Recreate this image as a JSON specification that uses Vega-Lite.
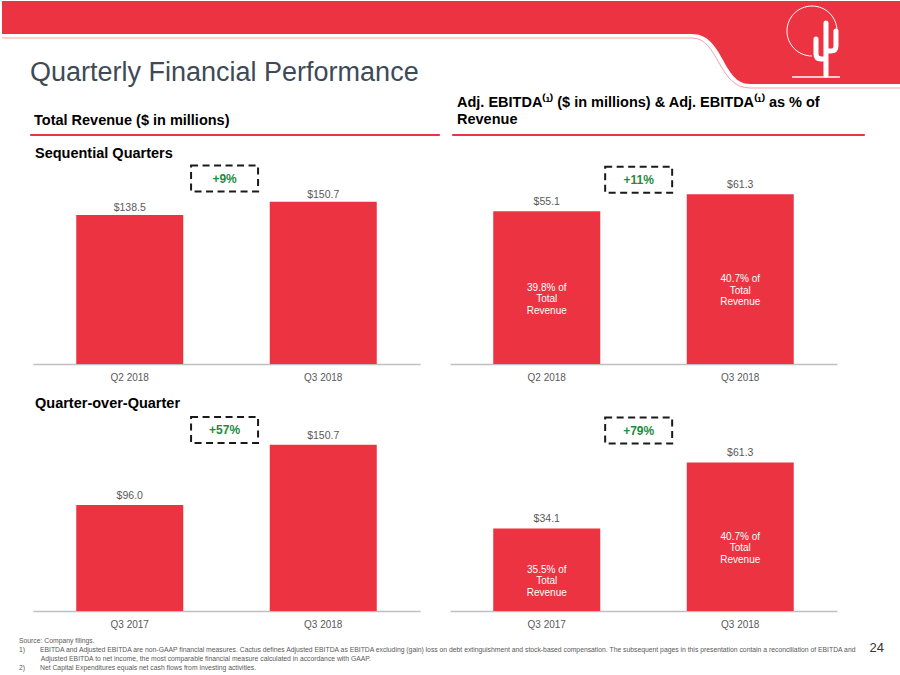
{
  "$schema": "https://vega.github.io/schema/vega-lite/v6.json",
  "padding": 0,
  "background": "#ffffff",
  "spacing": 0,
  "bounds": "flush",
  "config": {
    "font": "Liberation Sans",
    "view": {"stroke": null},
    "axis": {"domainColor": "#bfbfbf", "domainWidth": 1.5, "ticks": false, "tickSize": 0, "labelPadding": 8, "labelFontSize": 10, "labelColor": "#595959", "labelAngle": 0, "grid": false},
    "title": {"fontWeight": "bold", "color": "#000000", "anchor": "start", "frame": "group"}
  },
  "datasets": {
    "revSeq": [{"q": "Q2 2018", "v": 138.5}, {"q": "Q3 2018", "v": 150.7}],
    "revYoY": [{"q": "Q3 2017", "v": 96.0}, {"q": "Q3 2018", "v": 150.7}],
    "ebSeq": [{"q": "Q2 2018", "v": 55.1, "pct": "39.8% of\nTotal\nRevenue"}, {"q": "Q3 2018", "v": 61.3, "pct": "40.7% of\nTotal\nRevenue"}],
    "ebYoY": [{"q": "Q3 2017", "v": 34.1, "pct": "35.5% of\nTotal\nRevenue"}, {"q": "Q3 2018", "v": 61.3, "pct": "40.7% of\nTotal\nRevenue"}],
    "gRevSeq": [{"from": "Q2 2018", "change": "+9%"}],
    "gRevYoY": [{"from": "Q3 2017", "change": "+57%"}],
    "gEbSeq": [{"from": "Q2 2018", "change": "+11%"}],
    "gEbYoY": [{"from": "Q3 2017", "change": "+79%"}]
  },
  "vconcat": [
    {
      "width": 900, "height": 86,
      "data": {"values": [{"k": 1}]},
      "layer": [
        {"mark": {"type": "point", "shape": "M-1,-0.0956H1V0.0889H0.6622C0.6,0.0889,0.6044,-0.0222,0.5333,-0.0222H-1Z", "size": 810000, "filled": true, "fill": "#ec3341", "strokeWidth": 0, "opacity": 1}, "encoding": {}},
        {"mark": {"type": "point", "shape": "M-1,-0.0133H0.5333C0.5933,-0.0133,0.5911,0.0978,0.6622,0.0978H1", "size": 810000, "filled": false, "stroke": "#f3a3a8", "strokeWidth": 1, "opacity": 1}, "encoding": {}},
        {"mark": {"type": "point", "shape": "M0.8556,-0.0289C0.8556,-0.0596,0.8307,-0.0844,0.8,-0.0844C0.7693,-0.0844,0.7444,-0.0596,0.7444,-0.0289C0.7444,0.0018,0.7693,0.0267,0.8,0.0267", "size": 810000, "filled": false, "stroke": "#ffffff", "strokeWidth": 1, "opacity": 1}, "encoding": {}},
        {"mark": {"type": "point", "shape": "M0.8311,-0.0467V0.0689M0.8311,0.0156H0.8422Q0.8533,0.0156,0.8533,0.0044V-0.0289M0.8311,0.0333H0.82Q0.8089,0.0333,0.8089,0.0222V-0.0111", "size": 810000, "filled": false, "stroke": "#ffffff", "strokeWidth": 5, "strokeCap": "round", "strokeJoin": "round", "opacity": 1}, "encoding": {}},
        {"mark": {"type": "point", "shape": "M0.7556,0.0733H0.8622", "size": 810000, "filled": false, "stroke": "#ffffff", "strokeWidth": 1.5, "opacity": 1}, "encoding": {}}
      ]
    },
    {
      "width": 900, "height": 47,
      "data": {"values": []},
      "mark": "text",
      "title": {"text": "Quarterly Financial Performance", "offset": 0, "dx": 28, "fontSize": 27, "fontWeight": "normal", "color": "#3e4a56"}
    },
    {
      "hconcat": [
        {"width": 15, "height": 1, "data": {"values": []}, "mark": "text"},
        {
          "width": 409, "height": 1,
          "view": {"stroke": "#ec3341", "strokeWidth": 1, "fill": "#ec3341"},
          "data": {"values": []}, "mark": "text",
          "title": {"text": "Total Revenue ($ in millions)", "offset": 6, "dx": 4, "fontSize": 14.5}
        },
        {
          "width": 412, "height": 1,
          "view": {"stroke": "#ec3341", "strokeWidth": 1, "fill": "#ec3341"},
          "data": {"values": []}, "mark": "text",
          "title": {"text": ["Adj. EBITDA⁽¹⁾ ($ in millions) & Adj. EBITDA⁽¹⁾ as % of", "Revenue"], "offset": 6, "dx": 5, "fontSize": 14.5, "lineHeight": 17.6}
        }
      ],
      "spacing": 13,
      "bounds": "flush"
    },
    {"width": 900, "height": 30, "data": {"values": []}, "mark": "text"},
    {
      "hconcat": [
        {"width": 1, "height": 200, "data": {"values": []}, "mark": "text"},
        {
          "width": 387, "height": 200,
          "data": {"name": "revSeq"},
          "title": {"text": "Sequential Quarters", "offset": 0, "dx": 2, "fontSize": 14.5},
          "resolve": {"scale": {"y": "independent"}},
          "layer": [
            {"mark": {"type": "bar", "color": "#ec3341", "width": {"band": 0.553}},
             "encoding": {
               "x": {"field": "q", "type": "nominal", "title": null, "scale": {"paddingInner": 0, "paddingOuter": 0}},
               "y": {"field": "v", "type": "quantitative", "scale": {"domain": [0, 185.8], "nice": false}, "axis": null}}},
            {"mark": {"type": "text", "baseline": "alphabetic", "dy": -4, "fontSize": 10.5, "color": "#595959"},
             "encoding": {
               "x": {"field": "q", "type": "nominal", "title": null},
               "y": {"field": "v", "type": "quantitative", "scale": {"domain": [0, 185.8], "nice": false}, "axis": null},
               "text": {"field": "v", "type": "quantitative", "format": "$.1f"}}},
            {"data": {"name": "gRevSeq"},
             "mark": {"type": "point", "shape": "M-1,-0.388H1V0.388H-1Z", "size": 4489, "filled": false, "stroke": "#1a1a1a", "strokeWidth": 2, "strokeDash": [7, 4.5], "opacity": 1},
             "encoding": {
               "x": {"field": "from", "type": "nominal", "bandPosition": 0.99, "title": null},
               "y": {"datum": 172.3, "type": "quantitative", "scale": {"domain": [0, 185.8], "nice": false}, "axis": null}}},
            {"data": {"name": "gRevSeq"},
             "mark": {"type": "text", "fontSize": 12, "fontWeight": "bold", "color": "#1e8b3e", "baseline": "middle"},
             "encoding": {
               "x": {"field": "from", "type": "nominal", "bandPosition": 0.99, "title": null},
               "y": {"datum": 172.3, "type": "quantitative", "scale": {"domain": [0, 185.8], "nice": false}, "axis": null},
               "text": {"field": "change", "type": "nominal"}}}
          ]
        },
        {
          "width": 387, "height": 200,
          "data": {"name": "ebSeq"},
          "resolve": {"scale": {"y": "independent"}},
          "layer": [
            {"mark": {"type": "bar", "color": "#ec3341", "width": {"band": 0.553}},
             "encoding": {
               "x": {"field": "q", "type": "nominal", "title": null, "scale": {"paddingInner": 0, "paddingOuter": 0}},
               "y": {"field": "v", "type": "quantitative", "scale": {"domain": [0, 72.2], "nice": false}, "axis": null}}},
            {"mark": {"type": "text", "baseline": "alphabetic", "dy": -6.5, "fontSize": 10.5, "color": "#595959"},
             "encoding": {
               "x": {"field": "q", "type": "nominal", "title": null},
               "y": {"field": "v", "type": "quantitative", "scale": {"domain": [0, 72.2], "nice": false}, "axis": null},
               "text": {"field": "v", "type": "quantitative", "format": "$.1f"}}},
            {"mark": {"type": "text", "baseline": "middle", "fontSize": 10, "lineHeight": 11.5, "lineBreak": "\n", "color": "#ffffff"},
             "encoding": {
               "x": {"field": "q", "type": "nominal", "title": null},
               "y": {"field": "v", "type": "quantitative", "scale": {"domain": [0, 144.4], "nice": false}, "axis": null},
               "text": {"field": "pct", "type": "nominal"}}},
            {"data": {"name": "gEbSeq"},
             "mark": {"type": "point", "shape": "M-1,-0.388H1V0.388H-1Z", "size": 4489, "filled": false, "stroke": "#1a1a1a", "strokeWidth": 2, "strokeDash": [7, 4.5], "opacity": 1},
             "encoding": {
               "x": {"field": "from", "type": "nominal", "bandPosition": 0.975, "title": null},
               "y": {"datum": 66.5, "type": "quantitative", "scale": {"domain": [0, 72.2], "nice": false}, "axis": null}}},
            {"data": {"name": "gEbSeq"},
             "mark": {"type": "text", "fontSize": 12, "fontWeight": "bold", "color": "#1e8b3e", "baseline": "middle"},
             "encoding": {
               "x": {"field": "from", "type": "nominal", "bandPosition": 0.975, "title": null},
               "y": {"datum": 66.5, "type": "quantitative", "scale": {"domain": [0, 72.2], "nice": false}, "axis": null},
               "text": {"field": "change", "type": "nominal"}}}
          ]
        }
      ],
      "spacing": 30,
      "bounds": "flush"
    },
    {"width": 900, "height": 247, "data": {"values": []}, "mark": "text"},
    {
      "hconcat": [
        {"width": 1, "height": 200, "data": {"values": []}, "mark": "text"},
        {
          "width": 387, "height": 200,
          "data": {"name": "revYoY"},
          "title": {"text": "Quarter-over-Quarter", "offset": 0, "dx": 2, "fontSize": 14.5},
          "resolve": {"scale": {"y": "independent"}},
          "layer": [
            {"mark": {"type": "bar", "color": "#ec3341", "width": {"band": 0.553}},
             "encoding": {
               "x": {"field": "q", "type": "nominal", "title": null, "scale": {"paddingInner": 0, "paddingOuter": 0}},
               "y": {"field": "v", "type": "quantitative", "scale": {"domain": [0, 181.2], "nice": false}, "axis": null}}},
            {"mark": {"type": "text", "baseline": "alphabetic", "dy": -6, "fontSize": 10.5, "color": "#595959"},
             "encoding": {
               "x": {"field": "q", "type": "nominal", "title": null},
               "y": {"field": "v", "type": "quantitative", "scale": {"domain": [0, 181.2], "nice": false}, "axis": null},
               "text": {"field": "v", "type": "quantitative", "format": "$.1f"}}},
            {"data": {"name": "gRevYoY"},
             "mark": {"type": "point", "shape": "M-1,-0.388H1V0.388H-1Z", "size": 4489, "filled": false, "stroke": "#1a1a1a", "strokeWidth": 2, "strokeDash": [7, 4.5], "opacity": 1},
             "encoding": {
               "x": {"field": "from", "type": "nominal", "bandPosition": 0.99, "title": null},
               "y": {"datum": 163.9, "type": "quantitative", "scale": {"domain": [0, 181.2], "nice": false}, "axis": null}}},
            {"data": {"name": "gRevYoY"},
             "mark": {"type": "text", "fontSize": 12, "fontWeight": "bold", "color": "#1e8b3e", "baseline": "middle"},
             "encoding": {
               "x": {"field": "from", "type": "nominal", "bandPosition": 0.99, "title": null},
               "y": {"datum": 163.9, "type": "quantitative", "scale": {"domain": [0, 181.2], "nice": false}, "axis": null},
               "text": {"field": "change", "type": "nominal"}}}
          ]
        },
        {
          "width": 387, "height": 200,
          "data": {"name": "ebYoY"},
          "resolve": {"scale": {"y": "independent"}},
          "layer": [
            {"mark": {"type": "bar", "color": "#ec3341", "width": {"band": 0.553}},
             "encoding": {
               "x": {"field": "q", "type": "nominal", "title": null, "scale": {"paddingInner": 0, "paddingOuter": 0}},
               "y": {"field": "v", "type": "quantitative", "scale": {"domain": [0, 82.6], "nice": false}, "axis": null}}},
            {"mark": {"type": "text", "baseline": "alphabetic", "dy": -6.5, "fontSize": 10.5, "color": "#595959"},
             "encoding": {
               "x": {"field": "q", "type": "nominal", "title": null},
               "y": {"field": "v", "type": "quantitative", "scale": {"domain": [0, 82.6], "nice": false}, "axis": null},
               "text": {"field": "v", "type": "quantitative", "format": "$.1f"}}},
            {"mark": {"type": "text", "baseline": "middle", "fontSize": 10, "lineHeight": 11.5, "lineBreak": "\n", "color": "#ffffff"},
             "encoding": {
               "x": {"field": "q", "type": "nominal", "title": null},
               "y": {"field": "v", "type": "quantitative", "scale": {"domain": [0, 165.2], "nice": false}, "axis": null},
               "text": {"field": "pct", "type": "nominal"}}},
            {"data": {"name": "gEbYoY"},
             "mark": {"type": "point", "shape": "M-1,-0.388H1V0.388H-1Z", "size": 4489, "filled": false, "stroke": "#1a1a1a", "strokeWidth": 2, "strokeDash": [7, 4.5], "opacity": 1},
             "encoding": {
               "x": {"field": "from", "type": "nominal", "bandPosition": 0.975, "title": null},
               "y": {"datum": 74.5, "type": "quantitative", "scale": {"domain": [0, 82.6], "nice": false}, "axis": null}}},
            {"data": {"name": "gEbYoY"},
             "mark": {"type": "text", "fontSize": 12, "fontWeight": "bold", "color": "#1e8b3e", "baseline": "middle"},
             "encoding": {
               "x": {"field": "from", "type": "nominal", "bandPosition": 0.975, "title": null},
               "y": {"datum": 74.5, "type": "quantitative", "scale": {"domain": [0, 82.6], "nice": false}, "axis": null},
               "text": {"field": "change", "type": "nominal"}}}
          ]
        }
      ],
      "spacing": 30,
      "bounds": "flush"
    },
    {"width": 900, "height": 200, "data": {"values": []}, "mark": "text"},
    {
      "hconcat": [
        {
          "width": 860, "height": 25,
          "data": {"values": []}, "mark": "text",
          "title": {
            "text": [
              "Source: Company filings.",
              "1)\u2003\u2002\u2002\u2009EBITDA and Adjusted EBITDA are non-GAAP financial measures. Cactus defines Adjusted EBITDA as EBITDA excluding (gain) loss on debt extinguishment and stock-based compensation. The subsequent pages in this presentation contain a reconciliation of EBITDA and",
              "\u200b\u2003\u2003\u2003\u2009Adjusted EBITDA to net income, the most comparable financial measure calculated in accordance with GAAP.",
              "2)\u2003\u2002\u2002\u2009Net Capital Expenditures equals net cash flows from investing activities."
            ],
            "orient": "bottom", "offset": 2, "dx": 17, "fontSize": 6.8, "fontWeight": "normal", "color": "#595959", "lineHeight": 9
          }
        },
        {
          "width": 22, "height": 25,
          "data": {"values": []}, "mark": "text",
          "title": {"text": "24", "orient": "bottom", "anchor": "end", "offset": 6, "fontSize": 13, "fontWeight": "normal", "color": "#333333"}
        }
      ],
      "spacing": 0,
      "bounds": "flush"
    }
  ]
}
